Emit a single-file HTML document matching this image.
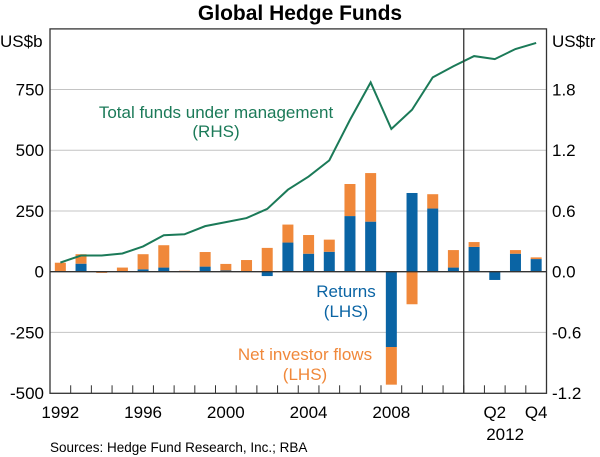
<!DOCTYPE html>
<html><head><meta charset="utf-8"><style>
body{margin:0;background:#fff;}
svg{display:block;font-family:"Liberation Sans",Arial,sans-serif;}
</style></head><body>
<svg id="chart" width="600" height="457" viewBox="0 0 600 457">
<text x="300" y="20" text-anchor="middle" font-size="21" font-weight="bold">Global Hedge Funds</text>
<g id="grid"></g>
<g id="bars"></g>
<g id="line"></g>
<g id="axes"></g>
<text x="0" y="47" font-size="17">US$b</text>
<text x="552" y="47" font-size="17">US$tr</text>
<text x="216" y="118" text-anchor="middle" font-size="17" fill="#1b7a58">Total funds under management</text>
<text x="216" y="137" text-anchor="middle" font-size="17" fill="#1b7a58">(RHS)</text>
<text x="346" y="297" text-anchor="middle" font-size="17" fill="#0a64a4">Returns</text>
<text x="346" y="317" text-anchor="middle" font-size="17" fill="#0a64a4">(LHS)</text>
<text x="305" y="360" text-anchor="middle" font-size="17" fill="#f0883a">Net investor flows</text>
<text x="305" y="380" text-anchor="middle" font-size="17" fill="#f0883a">(LHS)</text>
<text x="50" y="452" font-size="13.5">Sources: Hedge Fund Research, Inc.; RBA</text>
</svg>
<script>
const categories=["1992","1993","1994","1995","1996","1997","1998","1999","2000","2001","2002","2003","2004","2005","2006","2007","2008","2009","2010","2011","Q1","Q2","Q3","Q4"];
const returns=[3,33,0,2,10,17,0,21,5,1,-18,120,74,82,229,206,-310,324,260,17,102,-34,74,52];
const flows=[34,39,-5,15,62,92,4,60,27,47,98,74,77,50,132,200,-155,-134,59,72,20,3,15,7];
const fum=[0.09,0.16,0.16,0.18,0.25,0.36,0.37,0.45,0.49,0.53,0.62,0.81,0.94,1.10,1.50,1.87,1.41,1.60,1.92,2.03,2.13,2.10,2.20,2.26];
const leftTicks=[-500,-250,0,250,500,750];
const rightTicks=["-1.2","-0.6","0.0","0.6","1.2","1.8"];
const xLabels=[{i:0,t:"1992"},{i:4,t:"1996"},{i:8,t:"2000"},{i:12,t:"2004"},{i:16,t:"2008"},{i:21,t:"Q2"},{i:23,t:"Q4"}];

const X0=50,X1=546.5,Y0=28.9,Y1=393.3;
const n=categories.length,slot=(X1-X0)/n;
const yL=v=>271.7-v*(Y1-Y0)/1500;
const yR=v=>271.7-v*(Y1-Y0)/3.6;
const xC=i=>X0+slot*(i+0.5);
const NS="http://www.w3.org/2000/svg";
function mk(tag,attrs,parent){const e=document.createElementNS(NS,tag);for(const k in attrs)e.setAttribute(k,attrs[k]);document.getElementById(parent).appendChild(e);return e;}

leftTicks.forEach((v,k)=>{
  if(v!==0&&v!==-500){const g=mk('line',{x1:X0,x2:X1,y1:yL(v),y2:yL(v),stroke:'#c4c4c4','stroke-width':1},'grid');
  
  }
  const t=mk('text',{x:44,y:yL(v)+6,'text-anchor':'end','font-size':17},'axes');t.textContent=v;
  
  
  const r=mk('text',{x:552,y:yL(v)+6,'font-size':17},'axes');r.textContent=rightTicks[k];
  
  
});
const bw=11;
categories.forEach((c,i)=>{
  const r=returns[i],f=flows[i];
  const b=mk('rect',{x:xC(i)-bw/2,y:Math.min(yL(0),yL(r)),width:bw,height:Math.abs(yL(r)-yL(0)),fill:'#0a64a4'},'bars');
  
  
  const base=(f>=0)===(r>=0)?r:0;
  const o=mk('rect',{x:xC(i)-bw/2,y:Math.min(yL(base),yL(base+f)),width:bw,height:Math.abs(yL(base+f)-yL(base)),fill:'#f0883a'},'bars');
  
  
});
const pl=mk('polyline',{points:fum.map((v,i)=>xC(i)+','+yR(v)).join(' '),fill:'none',stroke:'#1b7a58','stroke-width':2},'line');



const zl=mk('line',{x1:X0,x2:X1,y1:yL(0),y2:yL(0),stroke:'#333','stroke-width':1.3},'axes');


const fr=mk('rect',{x:X0,y:Y0,width:X1-X0,height:Y1-Y0,fill:'none',stroke:'#333','stroke-width':1.3},'axes');


const dv=mk('line',{x1:X0+slot*20,x2:X0+slot*20,y1:Y0,y2:Y1,stroke:'#333','stroke-width':1.3},'axes');


for(let i=1;i<n;i++){
  const tk=mk('line',{x1:X0+slot*i,x2:X0+slot*i,y1:Y1,y2:Y1-8,stroke:'#333','stroke-width':1},'axes');
  
  
}
xLabels.forEach(l=>{
  const t=mk('text',{x:xC(l.i),y:418,'text-anchor':'middle','font-size':17},'axes');t.textContent=l.t;
  
  
});
const y12=mk('text',{x:(xC(21)+xC(22))/2,y:440,'text-anchor':'middle','font-size':17},'axes');y12.textContent="2012";


</script>
</body></html>
